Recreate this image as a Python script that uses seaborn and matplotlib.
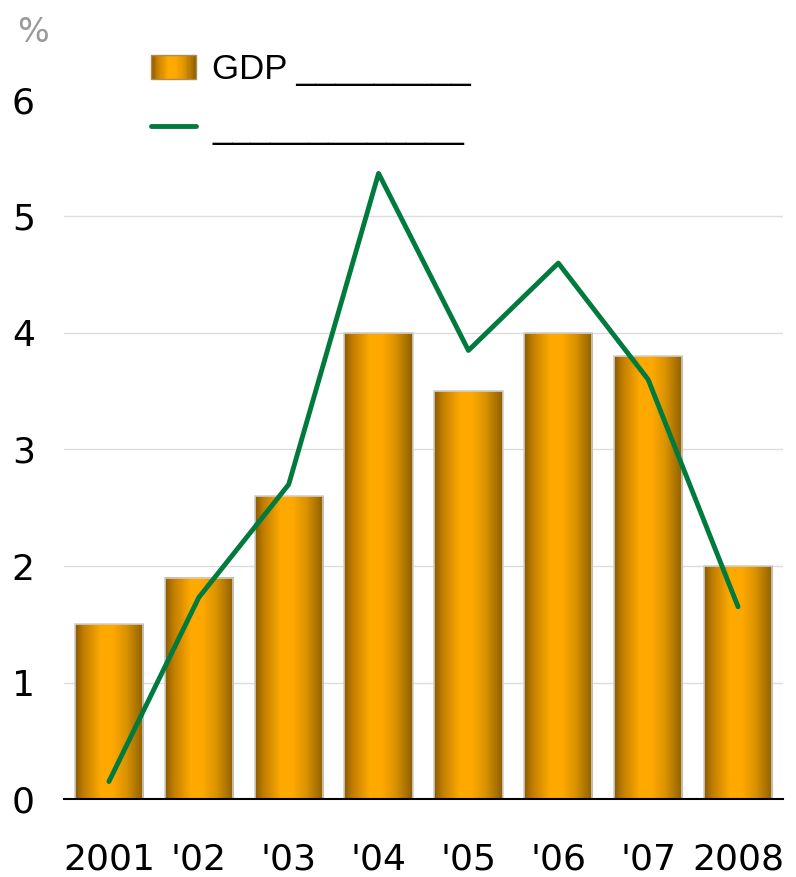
import numpy as np
import pandas as pd
import matplotlib
matplotlib.use("Agg")
import matplotlib.pyplot as plt
import seaborn as sns
from matplotlib.colors import LinearSegmentedColormap
from matplotlib.lines import Line2D
from matplotlib.patches import Rectangle
from matplotlib.legend_handler import HandlerBase

years = ["2001", "'02", "'03", "'04", "'05", "'06", "'07", "2008"]
gdp = [1.5, 1.9, 2.6, 4.0, 3.5, 4.0, 3.8, 2.0]
other = [0.15, 1.73, 2.70, 5.37, 3.85, 4.60, 3.60, 1.65]
yticks = [0, 1, 2, 3, 4, 5, 6]
gdp_label = "GDP _________"
other_label = "_____________"

df = pd.DataFrame({"year": years, "gdp": gdp, "other": other})

sns.set_theme(style="white")
plt.rcParams["font.family"] = ["DejaVu Sans"]

fig = plt.figure(figsize=(7.96, 8.77), dpi=100)
ax = fig.add_axes([64 / 796, 78 / 877, 719 / 796, 699 / 877])

cmap = LinearSegmentedColormap.from_list(
    "bar",
    [(0.0, "#8a5a00"), (0.12, "#c07d00"), (0.38, "#ffaa00"), (0.55, "#ffa800"),
     (0.75, "#d99200"), (1.0, "#8c5e00")],
)

sns.barplot(data=df, x="year", y="gdp", width=0.76, color="#ffa500",
            edgecolor="#cfcfcf", linewidth=1.2, ax=ax, zorder=2)

grad = np.linspace(0, 1, 256).reshape(1, -1)
for p in ax.patches:
    x0, y0 = p.get_x(), p.get_y()
    w, h = p.get_width(), p.get_height()
    ax.imshow(grad, extent=[x0, x0 + w, y0, y0 + h], aspect="auto",
              cmap=cmap, zorder=2.5, interpolation="bicubic")
    p.set_facecolor("none")
    p.set_zorder(3)

sns.lineplot(data=df, x="year", y="other", sort=False, color="#007a3d",
             linewidth=3.5, ax=ax, zorder=4)

ax.set_xlim(-0.5, len(years) - 0.5)
ax.set_ylim(0, 6)
ax.set_yticks(yticks)
ax.set_yticklabels([str(t) for t in yticks])
ax.set_xlabel("")
ax.set_ylabel("")

ax.yaxis.grid(True, color="#dddddd", linewidth=1)
ax.set_axisbelow(True)
ax.yaxis.get_gridlines()[-1].set_visible(False)

for s in ["left", "right", "top"]:
    ax.spines[s].set_visible(False)
ax.spines["bottom"].set_color("black")
ax.spines["bottom"].set_linewidth(1.5)
ax.spines["bottom"].set_zorder(5)

ax.tick_params(axis="y", length=0, pad=21, labelsize=26, labelcolor="black")
ax.tick_params(axis="x", length=0, pad=31, labelsize=26, labelcolor="black")

fig.text(17 / 796, 1 - 42 / 877, "%", fontsize=24, color="#999999")


class GradHandler(HandlerBase):
    def create_artists(self, legend, orig, xdescent, ydescent, width, height,
                       fontsize, trans):
        arts = []
        n = 40
        for i in range(n):
            r = Rectangle((xdescent + width * i / n, ydescent), width / n + 0.3,
                          height, facecolor=cmap((i + 0.5) / n),
                          edgecolor="none", transform=trans)
            arts.append(r)
        arts.append(Rectangle((xdescent, ydescent), width, height,
                              facecolor="none", edgecolor="#b08a50",
                              linewidth=1, transform=trans))
        return arts


bar_handle = Rectangle((0, 0), 1, 1)
line_handle = Line2D([0], [0], color="#007a3d", linewidth=3.5)
fig.legend([bar_handle, line_handle], [gdp_label, other_label],
           handler_map={Rectangle: GradHandler()},
           loc="upper left", bbox_to_anchor=(120 / 796, 1 - 22 / 877),
           frameon=False, handlelength=1.3, handleheight=0.7,
           handletextpad=0.45, labelspacing=0.75, labelcolor="black",
           prop={"family": ["Liberation Sans", "DejaVu Sans"], "size": 25})

fig.savefig("out.png", dpi=100)
